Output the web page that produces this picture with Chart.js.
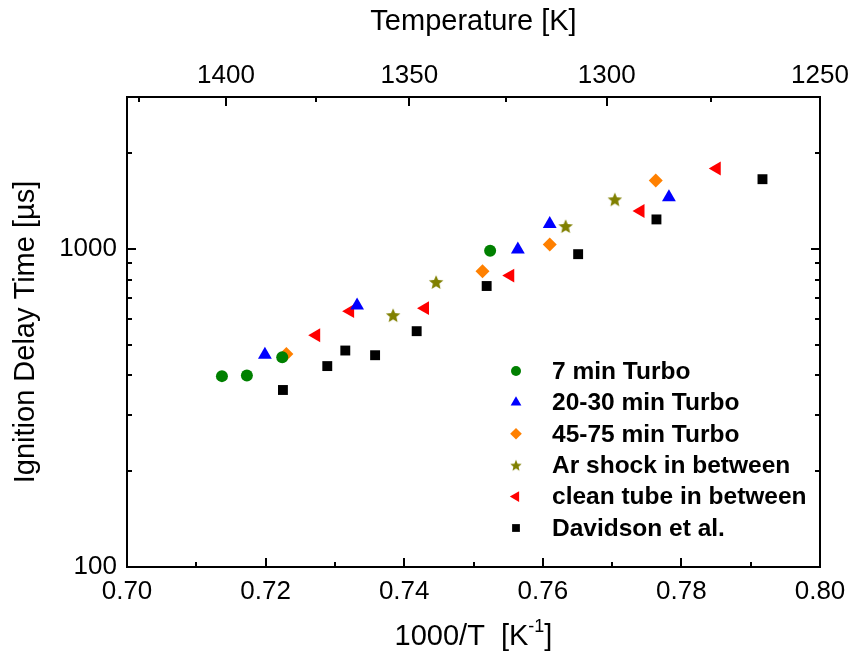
<!DOCTYPE html>
<html>
<head>
<meta charset="utf-8">
<script src="https://cdn.jsdelivr.net/npm/chart.js@4.4.1/dist/chart.umd.min.js"></script>
<style>
  html, body { margin: 0; padding: 0; background: #fff; }
  #ign-chart { display: block; width: 852px; height: 657px; }
</style>
</head>
<body>
<canvas id="ign-chart" width="852" height="657"></canvas>
<script>
// values: x = 1000/T [1/K], y = ignition delay time [µs]
const turbo7X = [0.7137, 0.7173, 0.7224, 0.7524];
const turbo7Y = [398, 400, 456, 986];

const turbo20X = [0.7199, 0.7332, 0.7564, 0.7610, 0.7782];
const turbo20Y = [465, 664, 995, 1196, 1451];

const turbo45X = [0.7230, 0.7513, 0.7610, 0.7763];
const turbo45Y = [467, 850, 1031, 1639];

const arShockX = [0.7384, 0.7446, 0.7633, 0.7704];
const arShockY = [619, 787, 1179, 1431];

const cleanTubeX = [0.7273, 0.7322, 0.7430, 0.7553, 0.7741, 0.7851];
const cleanTubeY = [535, 637, 651, 824, 1315, 1788];

const davidsonX = [0.7225, 0.7289, 0.7315, 0.7358, 0.7418, 0.7519, 0.7651, 0.7764, 0.7917];
const davidsonY = [360, 428, 479, 463, 551, 764, 962, 1237, 1655];

const seriesNames = ["7 min Turbo", "20-30 min Turbo", "45-75 min Turbo",
  "Ar shock in between", "clean tube in between", "Davidson et al."];

// axis ticks
const xMajorTicks = [0.70, 0.72, 0.74, 0.76, 0.78, 0.80];
const xMinorTicks = [0.71, 0.73, 0.75, 0.77, 0.79];
const tempMajorTicks = [1400, 1350, 1300, 1250];
const tempMinorTicks = [1425, 1375, 1325, 1275];
const yMajorTicks = [100, 1000];
const yMinorTicks = [200, 300, 400, 500, 600, 700, 800, 900, 2000, 3000];

const FONT = "Arial, 'Liberation Sans', sans-serif";

function pairs(xs, ys) {
  return xs.map((x, i) => ({ x, y: ys[i] }));
}

// filled five-point star, Chart.js only has the line "star"
function makeStar(r, color) {
  const size = Math.ceil(r * 2) + 2;
  const c = document.createElement("canvas");
  c.width = size;
  c.height = size;
  const g = c.getContext("2d");
  const cx = size / 2, cy = size / 2 + r * 0.1;
  g.fillStyle = color;
  g.beginPath();
  for (let i = 0; i < 10; i++) {
    const rr = i % 2 === 0 ? r : r * 0.45;
    const a = -Math.PI / 2 + i * Math.PI / 5;
    const px = cx + rr * Math.cos(a), py = cy + rr * Math.sin(a);
    if (i === 0) g.moveTo(px, py); else g.lineTo(px, py);
  }
  g.closePath();
  g.fill();
  return c;
}

const starBig = makeStar(7.6, "#808000");
const starSmall = makeStar(6, "#808000");

function tickList(major, minor) {
  return major.map((v) => ({ value: v, isMajor: true }))
    .concat(minor.map((v) => ({ value: v, isMajor: false })));
}

function tempTickList() {
  return tempMajorTicks.map((t) => ({ value: 1000 / t, temp: t, isMajor: true }))
    .concat(tempMinorTicks.map((t) => ({ value: 1000 / t, temp: t, isMajor: false })));
}

const datasets = [
  { label: seriesNames[0], data: pairs(turbo7X, turbo7Y), pointStyle: "circle", pointRadius: 6, backgroundColor: "#008000", legendRadius: 5 },
  { label: seriesNames[1], data: pairs(turbo20X, turbo20Y), pointStyle: "triangle", pointRadius: 8, backgroundColor: "#0000ff", legendRadius: 6.2 },
  { label: seriesNames[2], data: pairs(turbo45X, turbo45Y), pointStyle: "rectRot", pointRadius: 7, backgroundColor: "#ff8000", legendRadius: 5.8 },
  { label: seriesNames[3], data: pairs(arShockX, arShockY), pointStyle: starBig, pointRadius: 7, backgroundColor: "#808000", legendStyle: starSmall, legendRadius: 6 },
  { label: seriesNames[4], data: pairs(cleanTubeX, cleanTubeY), pointStyle: "triangle", pointRotation: -90, pointRadius: 8, backgroundColor: "#ff0000", legendRadius: 6.2 },
  { label: seriesNames[5], data: pairs(davidsonX, davidsonY), pointStyle: "rect", pointRadius: 7, backgroundColor: "#000000", legendRadius: 5.5 },
];
datasets.forEach((d) => {
  d.borderWidth = 0;
  d.pointBorderWidth = 0;
  d.borderColor = d.backgroundColor;
  d.pointBackgroundColor = d.backgroundColor;
  d.showLine = false;
});

// ticks point into the plot, majors longer than minors
const innerTicks = {
  id: "innerTicks",
  afterDraw(chart) {
    const { ctx, chartArea: a } = chart;
    ctx.save();
    ctx.strokeStyle = "#000";
    ctx.lineWidth = 2;
    ["x", "x2", "y", "y2"].forEach((id) => {
      const s = chart.scales[id];
      s.ticks.forEach((t) => {
        const len = t.isMajor ? 9 : 5;
        const p = Math.round(s.getPixelForValue(t.value));
        ctx.beginPath();
        if (s.position === "bottom") { ctx.moveTo(p, a.bottom); ctx.lineTo(p, a.bottom - len); }
        else if (s.position === "top") { ctx.moveTo(p, a.top); ctx.lineTo(p, a.top + len); }
        else if (s.position === "left") { ctx.moveTo(a.left, p); ctx.lineTo(a.left + len, p); }
        else { ctx.moveTo(a.right, p); ctx.lineTo(a.right - len, p); }
        ctx.stroke();
      });
    });
    ctx.restore();
  },
};

// bottom axis title with superscript
const bottomTitle = {
  id: "bottomTitle",
  afterDraw(chart) {
    const { ctx, chartArea: a } = chart;
    const s = chart.scales.x;
    const main = "1000/T  [K", sup = "-1", tail = "]";
    ctx.save();
    ctx.fillStyle = "#000";
    ctx.textBaseline = "middle";
    ctx.textAlign = "left";
    ctx.font = "29px " + FONT;
    const w1 = ctx.measureText(main).width, w3 = ctx.measureText(tail).width;
    ctx.font = "18px " + FONT;
    const w2 = ctx.measureText(sup).width;
    const cy = s.bottom - 20;
    let x = (a.left + a.right) / 2 - (w1 + w2 + w3) / 2;
    ctx.font = "29px " + FONT;
    ctx.fillText(main, x, cy);
    x += w1;
    ctx.font = "18px " + FONT;
    ctx.fillText(sup, x, cy - 10);
    x += w2;
    ctx.font = "29px " + FONT;
    ctx.fillText(tail, x, cy);
    ctx.restore();
  },
};

// legend inside the plot, lower right
const insideLegend = {
  id: "insideLegend",
  afterDraw(chart) {
    const { ctx, chartArea: a } = chart;
    const mx = a.left + 389, tx = a.left + 425;
    const y0 = a.top + 274, step = 31.4;
    ctx.save();
    ctx.font = "bold 24.5px " + FONT;
    ctx.textBaseline = "middle";
    ctx.textAlign = "left";
    chart.data.datasets.forEach((d, i) => {
      const y = y0 + i * step;
      ctx.fillStyle = d.backgroundColor;
      Chart.helpers.drawPoint(ctx, {
        pointStyle: d.legendStyle || d.pointStyle,
        rotation: d.pointRotation || 0,
        radius: d.legendRadius,
        borderWidth: 0,
      }, mx, y);
      ctx.fillStyle = "#000";
      ctx.fillText(d.label, tx, y + 1);
    });
    ctx.restore();
  },
};

const tickFont = { family: FONT, size: 26 };
const titleFont = { family: FONT, size: 29 };
const frame = { display: true, color: "#000", width: 2 };
const noGrid = { display: false, drawTicks: false };

new Chart(document.getElementById("ign-chart"), {
  type: "scatter",
  data: { datasets },
  options: {
    responsive: false,
    animation: false,
    layout: { padding: 0 },
    plugins: { legend: { display: false }, tooltip: { enabled: false } },
    scales: {
      x: {
        type: "linear", position: "bottom", min: 0.70, max: 0.80,
        afterBuildTicks: (s) => { s.ticks = tickList(xMajorTicks, xMinorTicks); },
        afterFit: (s) => { s.height = 90; },
        ticks: {
          autoSkip: false, maxRotation: 0, padding: 9, color: "#000", font: tickFont,
          callback: (v, i, t) => (t[i].isMajor ? v.toFixed(2) : ""),
        },
        grid: noGrid, border: frame,
      },
      x2: {
        type: "linear", position: "top", min: 0.70, max: 0.80,
        afterBuildTicks: (s) => { s.ticks = tempTickList(); },
        afterFit: (s) => { s.height = 97; },
        ticks: {
          autoSkip: false, maxRotation: 0, padding: 6, color: "#000", font: tickFont,
          callback: (v, i, t) => (t[i].isMajor ? String(t[i].temp) : ""),
        },
        title: { display: true, text: "Temperature [K]", color: "#000", font: titleFont, padding: { top: 5, bottom: 0 } },
        grid: noGrid, border: frame,
      },
      y: {
        type: "logarithmic", position: "left", min: 100, max: 3000,
        afterBuildTicks: (s) => { s.ticks = tickList(yMajorTicks, yMinorTicks); },
        afterFit: (s) => { s.width = 127; },
        ticks: {
          autoSkip: false, padding: 10, color: "#000", font: tickFont,
          callback: (v, i, t) => (t[i].isMajor ? String(v) : ""),
        },
        title: { display: true, text: "Ignition Delay Time [µs]", color: "#000", font: titleFont, padding: { top: 9, bottom: 0 } },
        grid: noGrid, border: frame,
      },
      y2: {
        type: "logarithmic", position: "right", min: 100, max: 3000,
        afterBuildTicks: (s) => { s.ticks = tickList(yMajorTicks, yMinorTicks); },
        afterFit: (s) => { s.width = 32; },
        ticks: { autoSkip: false, display: true, callback: () => "" },
        grid: noGrid, border: frame,
      },
    },
  },
  plugins: [innerTicks, bottomTitle, insideLegend],
});
</script>
</body>
</html>
